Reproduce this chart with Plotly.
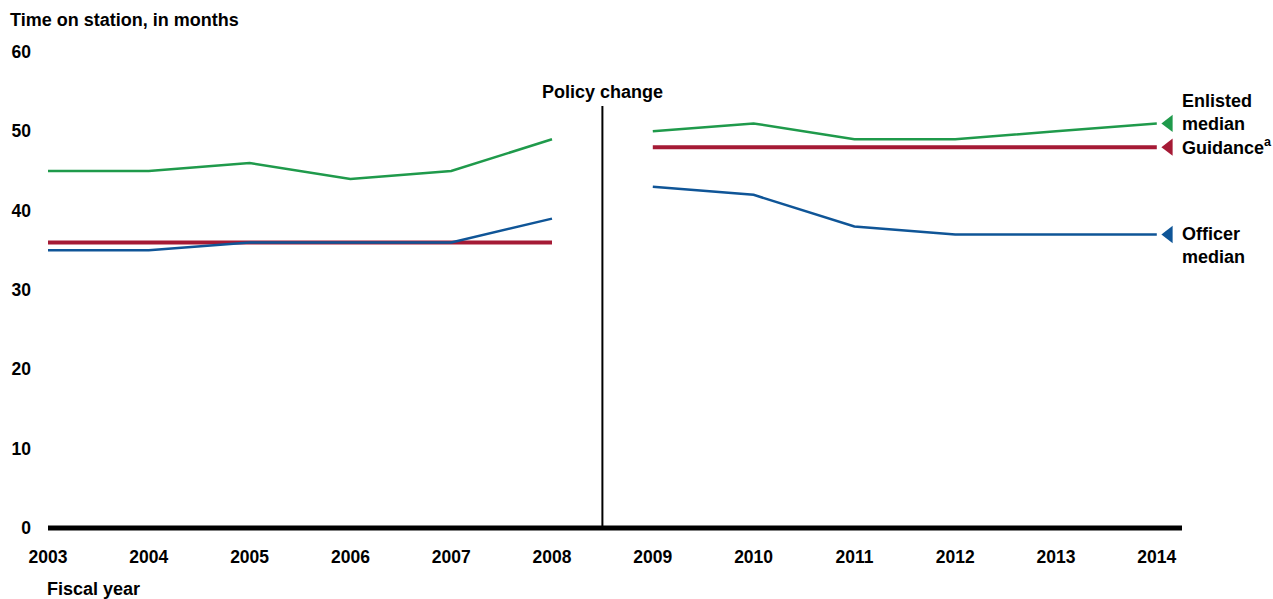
import plotly.graph_objects as go

years_pre = [2003, 2004, 2005, 2006, 2007, 2008]
years_post = [2009, 2010, 2011, 2012, 2013, 2014]
enlisted_pre = [45, 45, 46, 44, 45, 49]
enlisted_post = [50, 51, 49, 49, 50, 51]
officer_pre = [35, 35, 36, 36, 36, 39]
officer_post = [43, 42, 38, 37, 37, 37]
guidance_pre = [36, 36, 36, 36, 36, 36]
guidance_post = [48, 48, 48, 48, 48, 48]
tick_years = list(range(2003, 2015))
y_ticks = [0, 10, 20, 30, 40, 50, 60]

GREEN = "#1f9a4b"
BLUE = "#0f5597"
RED = "#a51a35"
FONT = "Liberation Sans"

fig = go.Figure()

def line(x, y, color, width):
    fig.add_trace(go.Scatter(x=x, y=y, mode="lines", line=dict(color=color, width=width),
                             showlegend=False, hoverinfo="skip"))

line(years_pre, guidance_pre, RED, 4)
line(years_post, guidance_post, RED, 4)
line(years_pre, officer_pre, BLUE, 2.5)
line(years_post, officer_post, BLUE, 2.5)
line(years_pre, enlisted_pre, GREEN, 2.5)
line(years_post, enlisted_post, GREEN, 2.5)

# end markers
mx = 2014.12
for val, col in [(enlisted_post[-1], GREEN), (guidance_post[-1], RED), (officer_post[-1], BLUE)]:
    fig.add_trace(go.Scatter(x=[mx], y=[val], mode="markers",
                             marker=dict(symbol="triangle-left", size=15, color=col),
                             showlegend=False, hoverinfo="skip", cliponaxis=False))

# policy line
fig.add_shape(type="line", x0=2008.5, x1=2008.5, y0=0, y1=53.2, xref="x", yref="y",
              line=dict(color="black", width=2))
# zero axis line (paper y so it is not clipped at the plot edge)
fig.add_shape(type="line", x0=0, x1=1, y0=0, y1=0, xref="paper", yref="paper",
              line=dict(color="black", width=5))

tf = dict(family=FONT, size=18, color="black")
ann = []
ann.append(dict(x=2008.5, y=54.9, xref="x", yref="y", text="<b>Policy change</b>",
                showarrow=False, font=tf, xanchor="center", yanchor="middle"))
ann.append(dict(x=2014.23, y=enlisted_post[-1], xref="x", yref="y", text="<b>Enlisted<br>median</b>",
                showarrow=False, font=tf, xanchor="left", yanchor="bottom", align="left", yshift=-13))
ann.append(dict(x=2014.23, y=guidance_post[-1], xref="x", yref="y",
                text="<b>Guidance<sup>a</sup></b>",
                showarrow=False, font=tf, xanchor="left", yanchor="middle", align="left", yshift=1))
ann.append(dict(x=2014.23, y=officer_post[-1], xref="x", yref="y", text="<b>Officer<br>median</b>",
                showarrow=False, font=tf, xanchor="left", yanchor="top", align="left", yshift=12))
ann.append(dict(x=5, y=20, xref="paper", yref="paper", text="<b>Time on station, in months</b>",
                showarrow=False, font=tf, xanchor="left", yanchor="middle"))
ann.append(dict(x=42, y=589, text="<b>Fiscal year</b>", showarrow=False, font=tf,
                xanchor="left", yanchor="middle"))

W, H = 1273, 599
L, R, T, B = 45, W - 1182, 52, H - 528
for a in ann:
    if a.get("xref") == "paper" or "xref" not in a:
        a["xref"] = "paper"; a["yref"] = "paper"
        a["x"] = (a["x"] - L) / (W - L - R)
        a["y"] = ((H - B) - a["y"]) / (H - T - B)

tick_font = dict(family=FONT, size=17.5, color="black")
fig.update_layout(
    width=W, height=H, margin=dict(l=L, r=R, t=T, b=B),
    paper_bgcolor="white", plot_bgcolor="white",
    font=dict(family=FONT, size=18, color="black"),
    annotations=ann,
    xaxis=dict(range=[2003, 2014.25], tickvals=tick_years,
               ticktext=[f"<b>{y}</b>" for y in tick_years], tickfont=tick_font,
               showgrid=False, zeroline=False, showline=False, ticks="",
               ticklabelstandoff=16, fixedrange=True),
    yaxis=dict(range=[0, 60], tickvals=y_ticks, ticktext=[f"<b>{v}</b>" for v in y_ticks],
               tickfont=tick_font,
               showgrid=False, zeroline=False, showline=False, ticks="",
               ticklabelstandoff=16, fixedrange=True),
)

fig.write_html("out.html", config={"displayModeBar": False},
               post_script="document.body.style.margin='0';document.body.style.overflow='hidden';")
